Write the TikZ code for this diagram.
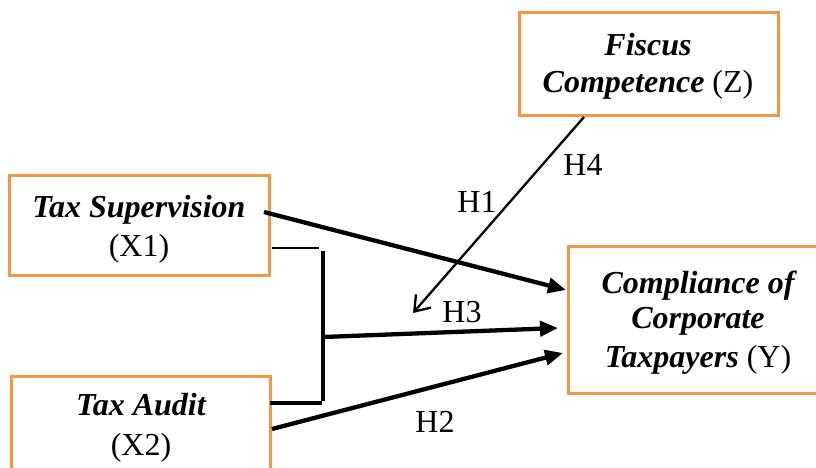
\documentclass[tikz,border=0pt]{standalone}
\usepackage{fontspec}
\setmainfont{Liberation Serif}
\usetikzlibrary{arrows.meta}
\definecolor{boxorange}{RGB}{247,150,70}
\tikzset{
  box/.style={draw=boxorange, line width=3pt},
  lbl/.style={anchor=base, inner sep=0pt, font=\fontsize{32}{37}\selectfont},
  bi/.style={anchor=base, inner sep=0pt, font=\fontsize{32}{37}\selectfont\bfseries\itshape},
  thickarrow/.style={line width=4.3pt, -{Triangle[length=18pt,width=15pt]}},
  thinarrow/.style={line width=2.3pt, -{Straight Barb[length=14pt,width=20pt,line width=2.3pt]}},
}
\begin{document}
\begin{tikzpicture}[x=1pt,y=-1pt]
\useasboundingbox (0,0) rectangle (816,467);
\clip (0,0) rectangle (816,467);
% boxes
\draw[box] (519,12) rectangle (778,115);
\node[inner sep=0pt] (fis) at (648.5,63.5) {};
\draw[box] (9,175) rectangle (269,275);
\node[inner sep=0pt] (sup) at (139,225) {};
\draw[box] (11,376) rectangle (270,520);
\node[inner sep=0pt] (aud) at (140.5,448) {};
\draw[box] (568,246) rectangle (840,393);
\node[inner sep=0pt] (comp) at (704,319.5) {};
% texts
\node[bi] (t1) at (648,55) {Fiscus};
\node[lbl] (t2) at (648,92) {\textbf{\textit{Competence}} (Z)};
\node[bi] (t3) at (139,217) {Tax Supervision};
\node[lbl] (t4) at (139,256) {(X1)};
\node[bi] (t5) at (141,415) {Tax Audit};
\node[lbl] (t6) at (141,455) {(X2)};
\node[bi] (t7) at (698,293) {Compliance of};
\node[bi] (t8) at (698,328) {Corporate};
\node[lbl] (t9) at (698,367) {\textbf{\textit{Taxpayers}} (Y)};
% labels
\node[lbl] (h4) at (583,175) {H4};
\node[lbl] (h1) at (477,212) {H1};
\node[lbl] (h3) at (462,322) {H3};
\node[lbl] (h2) at (435,432) {H2};
% connector points
\coordinate (supout) at (264,212);
\coordinate (compin1) at (566,290);
\coordinate (supbr) at (272,248);
\coordinate (brtop) at (319,248);
\coordinate (bartop) at (323,251);
\coordinate (barbot) at (323,401);
\coordinate (audbr) at (270,403);
\coordinate (brbot) at (322,403);
\coordinate (barmid) at (323,337);
\coordinate (compin2) at (558,328);
\coordinate (audout) at (272,429);
\coordinate (compin3) at (563,353);
\coordinate (fisout) at (584,117);
\coordinate (modtip) at (413,313);
% connectors
\draw[thickarrow] (supout) -- (compin1);
\draw[line width=1.5pt] (supbr) -- (brtop);
\draw[line width=4.3pt] (bartop) -- (barbot);
\draw[line width=3.3pt] (audbr) -- (brbot);
\draw[thickarrow] (barmid) -- (compin2);
\draw[thickarrow] (audout) -- (compin3);
\draw[thinarrow] (fisout) -- (modtip);
\end{tikzpicture}
\end{document}
